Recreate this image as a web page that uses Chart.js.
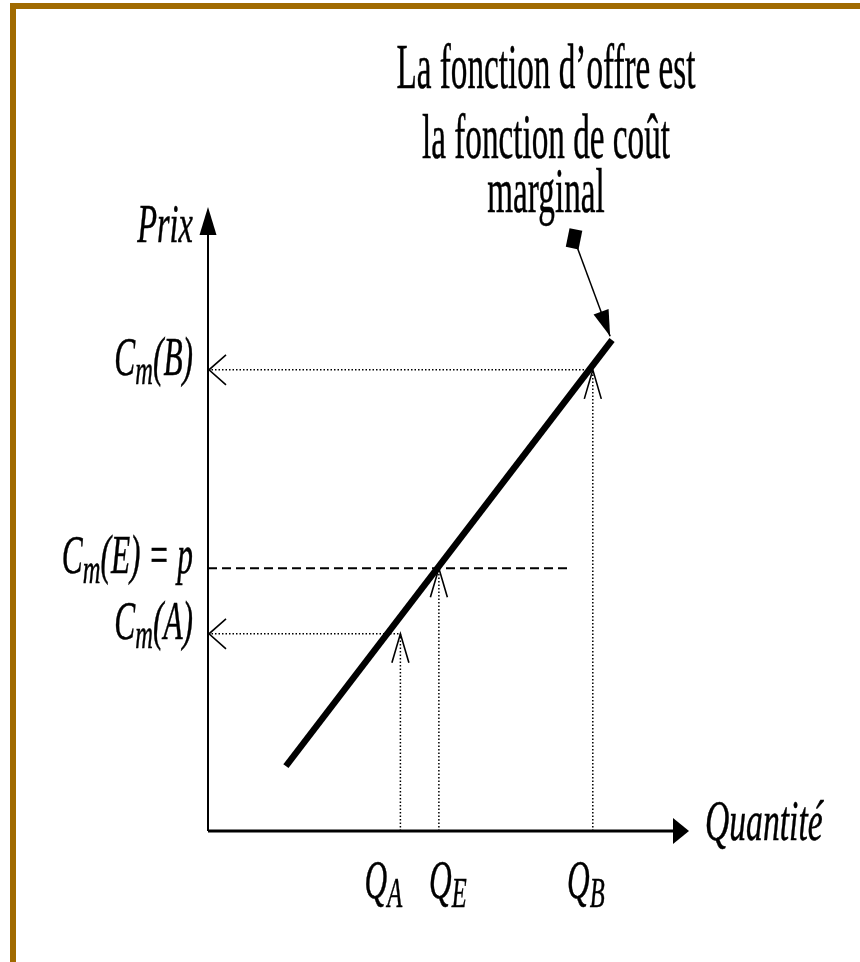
<!DOCTYPE html>
<html>
<head>
<meta charset="utf-8">
<script src="https://cdn.jsdelivr.net/npm/chart.js@4"></script>
<style>
    html, body { margin: 0; padding: 0; background: #ffffff; }
    #frame {
        position: absolute; left: 10px; top: 3px; right: 0; bottom: 0;
        border-top: 6px solid #a06a00; border-left: 6px solid #a06a00;
    }
    #wrap { position: absolute; left: 0; top: 0; width: 860px; height: 962px; }
</style>
</head>
<body>
<div id="frame"></div>
<div id="wrap"><canvas id="chart"></canvas></div>
<script>
// values (axis units 0..100)
const qValues = [40, 48, 80];            // Q_A, Q_E, Q_B
const cmValues = [31.6, 42.1, 73.9];     // Cm(A), Cm(E) = p, Cm(B)
const supplyX = [16.2, 84.0];
const supplyY = [10.4, 78.7];
const pLineEnd = 75.3;                   // where the dashed price line stops
const calloutX = [76.1, 83.6];
const calloutY = [94.9, 79.3];
const priceLabels = [['C', 'm', '(A)'], ['C', 'm', '(E) = p'], ['C', 'm', '(B)']];
const quantityLabels = [['Q', 'A'], ['Q', 'E'], ['Q', 'B']];
const titleLines = ['La fonction d\u2019offre est', 'la fonction de co\u00fbt', 'marginal'];
const yAxisTitle = 'Prix';
const xAxisTitle = 'Quantit\u00e9';

const FONT = '"Liberation Serif", serif';

function seg(x0, y0, x1, y1) {
    return [{ x: x0, y: y0 }, { x: x1, y: y1 }];
}

function lineSet(data, width, dash) {
    return {
        data: data,
        showLine: true,
        borderColor: '#000',
        borderWidth: width,
        borderDash: dash || [],
        borderCapStyle: 'butt',
        pointRadius: 0,
        clip: false
    };
}

// fill + thin stroke, the original glyphs are a bit heavier
function ink(ctx, t, x, y) {
    ctx.fillText(t, x, y);
    ctx.strokeText(t, x, y);
}

// text with the second part as subscript, squeezed horizontally like the original
function drawRich(ctx, parts, x, y, align, size, sx) {
    const big = 'italic ' + size + 'px ' + FONT;
    const small = 'italic ' + Math.round(size * 0.78) + 'px ' + FONT;
    ctx.save();
    ctx.translate(x, y);
    ctx.scale(sx, 1);
    ctx.textAlign = 'left';
    ctx.textBaseline = 'alphabetic';
    ctx.lineWidth = 0.5;
    let w = 0;
    parts.forEach((t, i) => {
        ctx.font = i == 1 ? small : big;
        w += ctx.measureText(t).width;
    });
    let cx = align == 'right' ? -w : (align == 'center' ? -w / 2 : 0);
    parts.forEach((t, i) => {
        ctx.font = i == 1 ? small : big;
        ink(ctx, t, cx, i == 1 ? size * 0.17 : 0);
        cx += ctx.measureText(t).width;
    });
    ctx.restore();
}

function fillTri(ctx, pts) {
    ctx.beginPath();
    ctx.moveTo(pts[0][0], pts[0][1]);
    ctx.lineTo(pts[1][0], pts[1][1]);
    ctx.lineTo(pts[2][0], pts[2][1]);
    ctx.closePath();
    ctx.fill();
}

const decorations = {
    id: 'decorations',
    afterDatasetsDraw(chart) {
        const ctx = chart.ctx;
        const xs = chart.scales.x;
        const ys = chart.scales.y;
        const x0 = xs.getPixelForValue(0);
        const y0 = ys.getPixelForValue(0);
        const xTip = xs.getPixelForValue(100);
        const yTip = ys.getPixelForValue(100);
        ctx.save();
        ctx.fillStyle = '#000';
        ctx.strokeStyle = '#000';

        // axis arrowheads
        fillTri(ctx, [[x0, yTip], [x0 - 8.5, yTip + 28], [x0 + 8.5, yTip + 28]]);
        fillTri(ctx, [[xTip, y0], [xTip - 16, y0 - 13], [xTip - 16, y0 + 13]]);

        // open arrowheads: "<" on the price axis, "^" on the quantity guides
        ctx.lineWidth = 1.6;
        [0, 2].forEach(i => {
            const py = ys.getPixelForValue(cmValues[i]);
            ctx.beginPath();
            ctx.moveTo(x0 + 18, py - 15);
            ctx.lineTo(x0 + 1, py);
            ctx.lineTo(x0 + 18, py + 15);
            ctx.stroke();
        });
        qValues.forEach((q, i) => {
            const px = xs.getPixelForValue(q);
            const py = ys.getPixelForValue(cmValues[i]);
            ctx.beginPath();
            ctx.moveTo(px - 8.5, py + 29);
            ctx.lineTo(px, py);
            ctx.lineTo(px + 8.5, py + 29);
            ctx.stroke();
        });

        // callout: tail marker and head
        const ax = xs.getPixelForValue(calloutX[0]);
        const ay = ys.getPixelForValue(calloutY[0]);
        const bx = xs.getPixelForValue(calloutX[1]);
        const by = ys.getPixelForValue(calloutY[1]);
        const len = Math.hypot(bx - ax, by - ay);
        const ux = (bx - ax) / len;
        const uy = (by - ay) / len;
        const hx = bx - ux * 26;
        const hy = by - uy * 26;
        fillTri(ctx, [[bx, by], [hx + uy * 8, hy - ux * 8], [hx - uy * 8, hy + ux * 8]]);
        ctx.save();
        ctx.translate(ax, ay);
        ctx.rotate(0.2);
        ctx.fillRect(-6.5, -9.5, 13, 19);
        ctx.restore();

        // price labels, right aligned left of the axis
        cmValues.forEach((c, i) => {
            drawRich(ctx, priceLabels[i], x0 - 15, ys.getPixelForValue(c) + 5, 'right', 55, 0.57);
        });
        // quantity labels under the axis
        const nudge = [-17, 9, -7];
        qValues.forEach((q, i) => {
            drawRich(ctx, quantityLabels[i], xs.getPixelForValue(q) + nudge[i], 898, 'center', 55, 0.57);
        });
        // axis titles
        drawRich(ctx, [yAxisTitle], x0 - 15, yTip + 35, 'right', 55, 0.59);
        drawRich(ctx, [xAxisTitle], xTip + 16, y0 + 9, 'left', 57, 0.59);

        // callout text
        ctx.font = '63px ' + FONT;
        ctx.textAlign = 'center';
        ctx.textBaseline = 'alphabetic';
        ctx.lineWidth = 0.5;
        const base = [88, 158, 212];
        titleLines.forEach((t, i) => {
            ctx.save();
            ctx.translate(546, base[i]);
            ctx.scale(0.527, 1);
            ink(ctx, t, 0, 0);
            ctx.restore();
        });
        ctx.restore();
    }
};

function build() {
    new Chart(document.getElementById('chart').getContext('2d'), {
        type: 'scatter',
        data: {
            datasets: [
                lineSet(seg(0, 0, 0, 96), 2),                                  // price axis
                lineSet(seg(0, 0, 97, 0), 3),                                  // quantity axis
                lineSet(seg(0, cmValues[1], pLineEnd, cmValues[1]), 2, [9, 5]), // price p
                lineSet(seg(0, cmValues[0], qValues[0], cmValues[0]), 1.5, [1.5, 2]),
                lineSet(seg(0, cmValues[2], qValues[2], cmValues[2]), 1.5, [1.5, 2]),
                lineSet(seg(qValues[0], 0, qValues[0], cmValues[0]), 1.5, [1.5, 2]),
                lineSet(seg(qValues[1], 0, qValues[1], cmValues[1]), 1.5, [1.5, 2]),
                lineSet(seg(qValues[2], 0, qValues[2], cmValues[2]), 1.5, [1.5, 2]),
                lineSet(seg(calloutX[0], calloutY[0], calloutX[1], calloutY[1]), 1.5), // callout
                lineSet(seg(supplyX[0], supplyY[0], supplyX[1], supplyY[1]), 6.5)      // supply
            ]
        },
        options: {
            responsive: true,
            maintainAspectRatio: false,
            animation: false,
            devicePixelRatio: 1,
            layout: { padding: { left: 208, right: 171, top: 207, bottom: 131 } },
            scales: {
                x: { type: 'linear', min: 0, max: 100, display: false },
                y: { type: 'linear', min: 0, max: 100, display: false }
            },
            plugins: {
                legend: { display: false },
                tooltip: { enabled: false }
            }
        },
        plugins: [decorations]
    });
}

build();
</script>
</body>
</html>
